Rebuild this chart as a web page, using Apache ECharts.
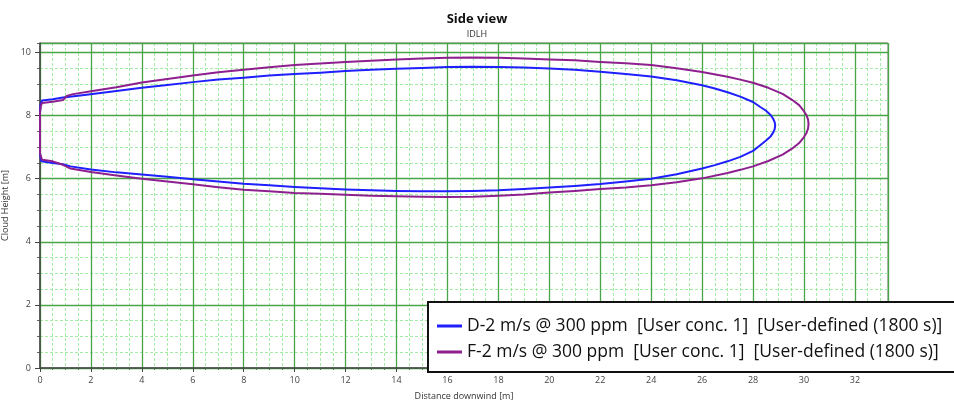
<!DOCTYPE html>
<html>
<head>
<meta charset="utf-8">
<script src="https://cdn.jsdelivr.net/npm/echarts@6/dist/echarts.min.js"></script>
<style>
html, body { margin: 0; padding: 0; background: #fff; }
#main { width: 954px; height: 401px; }
</style>
</head>
<body>
<div id="main"></div>
<script>
// cloud outline, D-2 m/s (closed loop: left edge, top, nose, bottom)
var dCloud = [
    [0.05, 6.55], [0, 6.8], [0, 7.4], [0, 8.1], [0.02, 8.35], [0.08, 8.48],
    [0.5, 8.52], [0.9, 8.57], [1.5, 8.63], [2.3, 8.71], [3, 8.78], [4, 8.88],
    [5, 8.97], [6, 9.06], [7, 9.14], [8, 9.2], [9, 9.27], [10, 9.32],
    [11, 9.36], [12, 9.41], [13, 9.45], [14, 9.48], [15, 9.51], [16, 9.54],
    [17, 9.55], [18, 9.54], [19, 9.52], [20, 9.49], [21, 9.45], [22, 9.39],
    [23, 9.32], [24, 9.24], [25, 9.12], [26, 8.96], [26.5, 8.86], [27, 8.74],
    [27.5, 8.6], [28, 8.43], [28.27, 8.28], [28.5, 8.16], [28.69, 8.02],
    [28.79, 7.9], [28.85, 7.79], [28.87, 7.69], [28.85, 7.57], [28.79, 7.46],
    [28.69, 7.34], [28.5, 7.2], [28.27, 7.05], [28, 6.88], [27.5, 6.69],
    [27, 6.55], [26.5, 6.43], [26, 6.32],
    [25, 6.14], [24, 6.0], [23, 5.91],
    [22, 5.83], [21, 5.77], [20, 5.72], [19, 5.67], [18, 5.63], [17, 5.61],
    [16, 5.6], [15, 5.6], [14, 5.61], [13, 5.63], [12, 5.66], [11, 5.7],
    [10, 5.74], [9, 5.79], [8, 5.84], [7, 5.91], [6, 5.98], [5, 6.06],
    [4, 6.13], [3, 6.2], [2, 6.29], [1.2, 6.39], [0.9, 6.46], [0.5, 6.5],
    [0.05, 6.55]
];
// cloud outline, F-2 m/s
var fCloud = [
    [0.08, 6.6], [0, 6.8], [0, 7.4], [0, 8.1], [0.03, 8.3], [0.08, 8.4],
    [0.5, 8.44], [0.9, 8.49], [1.05, 8.62], [1.3, 8.68], [2, 8.77], [3, 8.9],
    [4, 9.05], [5, 9.16], [6, 9.27], [7, 9.37], [8, 9.45], [9, 9.53],
    [10, 9.6], [11, 9.65], [12, 9.7], [13, 9.74], [14, 9.78], [15, 9.81],
    [16, 9.83], [17, 9.84], [18, 9.83], [19, 9.81], [20, 9.78], [21, 9.75],
    [22, 9.7], [23, 9.66], [24, 9.6], [25, 9.5], [26, 9.38], [27, 9.23],
    [27.5, 9.14], [28, 9.04], [28.6, 8.88], [29.16, 8.69], [29.53, 8.5],
    [29.81, 8.33], [30, 8.14], [30.1, 8.01], [30.16, 7.87], [30.18, 7.73],
    [30.16, 7.59], [30.1, 7.45], [30, 7.32], [29.81, 7.13], [29.53, 6.95],
    [29.16, 6.76], [28.6, 6.56],
    [28, 6.39], [27.5, 6.28], [27, 6.18], [26, 6.01], [25, 5.89],
    [24, 5.79], [23, 5.72], [22, 5.67], [21, 5.61], [20, 5.56], [19, 5.5],
    [18, 5.46], [17, 5.43], [16, 5.42], [15, 5.43], [14, 5.44], [13, 5.46],
    [12, 5.49], [11, 5.52], [10, 5.55], [9, 5.6], [8, 5.65], [7, 5.73],
    [6, 5.82], [5, 5.91], [4, 6.0], [3, 6.1], [2, 6.21], [1.2, 6.32],
    [1.0, 6.4], [0.9, 6.44], [0.5, 6.55], [0.08, 6.6]
];
var seriesNames = [
    'D-2 m/s @ 300 ppm  [User conc. 1]  [User-defined (1800 s)]',
    'F-2 m/s @ 300 ppm  [User conc. 1]  [User-defined (1800 s)]'
];
var xRange = [0, 33.3];
var yRange = [0, 10.3];

var chart = echarts.init(document.getElementById('main'));

var majorGrid = { lineStyle: { color: '#4aa54a', width: 1.3 } };
var minorGrid = { lineStyle: { color: '#a3eca3', width: 1, type: [3, 2] } };
var fontFam = '"Open Sans", "Noto Sans", sans-serif';

function evenLabel(v) {
    return (Math.abs(v % 2) < 1e-6) ? String(v) : '';
}

var option = {
    backgroundColor: '#fff',
    animation: false,
    title: {
        text: 'Side view',
        subtext: 'IDLH',
        left: 'center',
        top: 8,
        itemGap: 4,
        textStyle: { fontSize: 13, fontWeight: 'bold', color: '#111', fontFamily: fontFam },
        subtextStyle: { fontSize: 9, color: '#333', fontFamily: fontFam }
    },
    grid: {
        left: 40, right: 66, top: 43, bottom: 33,
        outerBoundsMode: 'none',
        containLabel: false,
        show: true, borderColor: '#777', borderWidth: 1
    },
    legend: {
        orient: 'vertical',
        left: 428, top: 302,
        backgroundColor: '#fff',
        borderColor: '#111', borderWidth: 2, borderRadius: 0,
        padding: [15, 60, 11, 9],
        itemGap: 8,
        itemWidth: 25, itemHeight: 3,
        icon: 'rect',
        textStyle: { fontSize: 17.5, color: '#111', fontFamily: fontFam },
        data: seriesNames
    },
    xAxis: [{
        type: 'value', position: 'bottom',
        min: xRange[0], max: xRange[1], interval: 2,
        name: 'Distance downwind [m]', nameLocation: 'middle', nameGap: 24,
        nameTextStyle: { fontSize: 9, color: '#333', fontFamily: fontFam },
        axisLine: { lineStyle: { color: '#444', width: 1.5 } },
        axisTick: { length: 4, lineStyle: { color: '#444' } },
        axisLabel: { fontSize: 9, color: '#444', margin: 8, formatter: evenLabel, showMaxLabel: false, fontFamily: fontFam },
        splitLine: majorGrid,
        z: 3
    }, {
        type: 'value', position: 'bottom',
        min: xRange[0], max: xRange[1], interval: 0.5,
        axisLine: { show: false },
        axisTick: { length: 2, lineStyle: { color: '#666' } },
        axisLabel: { show: false },
        splitLine: minorGrid,
        z: 1
    }],
    yAxis: [{
        type: 'value', position: 'left',
        min: yRange[0], max: yRange[1], interval: 2,
        name: 'Cloud Height [m]', nameLocation: 'middle', nameGap: 26,
        nameTextStyle: { fontSize: 9, color: '#333', fontFamily: fontFam },
        axisLine: { lineStyle: { color: '#444', width: 1.5 } },
        axisTick: { length: 5, lineStyle: { color: '#444' } },
        axisLabel: { fontSize: 9, color: '#444', margin: 9, formatter: evenLabel, showMaxLabel: false, fontFamily: fontFam },
        splitLine: majorGrid,
        z: 3
    }, {
        type: 'value', position: 'left',
        min: yRange[0], max: yRange[1], interval: 0.5,
        axisLine: { show: false },
        axisTick: { length: 3, lineStyle: { color: '#666' } },
        axisLabel: { show: false },
        splitLine: minorGrid,
        z: 1
    }],
    series: [{
        name: seriesNames[0],
        type: 'line',
        xAxisIndex: 0, yAxisIndex: 0,
        data: dCloud,
        smooth: false,
        showSymbol: false,
        clip: false,
        color: '#1f1fff',
        lineStyle: { width: 2, color: '#1f1fff', join: 'round' },
        z: 5
    }, {
        name: seriesNames[1],
        type: 'line',
        xAxisIndex: 0, yAxisIndex: 0,
        data: fCloud,
        smooth: false,
        showSymbol: false,
        clip: false,
        color: '#8e1f8e',
        lineStyle: { width: 2, color: '#8e1f8e', join: 'round' },
        z: 5
    }]
};
chart.setOption(option);
</script>
</body>
</html>
